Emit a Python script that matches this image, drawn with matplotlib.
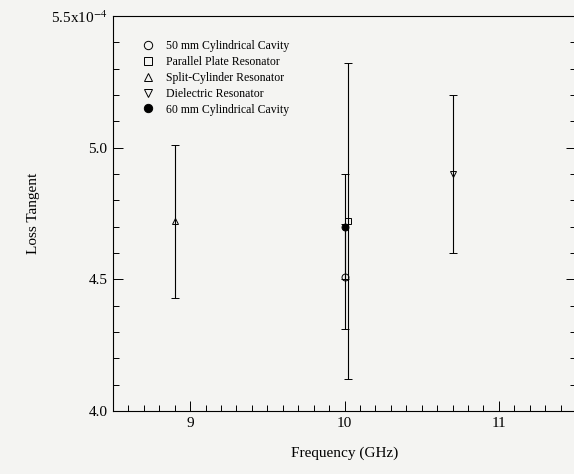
"""Loss tangent of the test specimen measured with several resonator techniques."""

import matplotlib.pyplot as plt
from matplotlib.lines import Line2D
from matplotlib.ticker import MultipleLocator

# measurement methods, in legend order
methods = ["50 mm Cylindrical Cavity", "Parallel Plate Resonator",
           "Split-Cylinder Resonator", "Dielectric Resonator",
           "60 mm Cylindrical Cavity"]
frequency_ghz = [10.0, 10.02, 8.9, 10.7, 10.0]
loss_tangent = [4.51, 4.72, 4.72, 4.90, 4.70]        # x 10^-4
uncertainty = [0.20, 0.60, 0.29, 0.30, 0.20]         # x 10^-4

ytick_values = [4.0, 4.5, 5.0, 5.5]
ytick_labels = ["4.0", "4.5", "5.0", r"5.5x10$^{\mathrm{-4}}$"]
xtick_values = [9, 10, 11]

markers = ['o', 's', '^', 'v', 'o']
facecolors = ['none', 'none', 'none', 'none', 'black']

BG = '#f4f4f2'


def save_or_show(fig, path=None):
    if path is not None:
        fig.savefig(path, facecolor=fig.get_facecolor())
        plt.close(fig)
    else:
        plt.show()


def plot_loss_tangent(path=None):
    plt.rcParams['font.family'] = ['Liberation Serif', 'DejaVu Serif']
    plt.rcParams['mathtext.fontset'] = 'stix'

    fig = plt.figure(figsize=(5.74, 4.74), dpi=100, facecolor=BG)
    ax = fig.add_axes([0.1969, 0.1329, 0.8066, 0.8333], facecolor=BG)

    for f, lt, err, m, fc in zip(frequency_ghz, loss_tangent, uncertainty,
                                 markers, facecolors):
        ax.errorbar(f, lt, yerr=err, fmt=m, ms=5, mfc=fc, mec='black',
                    mew=0.7, ecolor='black', elinewidth=0.8, capsize=2.6,
                    capthick=0.8, zorder=3)

    ax.set_xlim(8.5, 11.5)
    ax.set_ylim(4.0, 5.5)
    ax.set_xticks(xtick_values)
    ax.set_yticks(ytick_values)
    ax.set_yticklabels(ytick_labels)
    ax.xaxis.set_minor_locator(MultipleLocator(0.1))
    ax.yaxis.set_minor_locator(MultipleLocator(0.1))
    ax.tick_params(which='both', direction='in', top=False, right=True,
                   labelsize=11, width=0.7, pad=4)
    ax.tick_params(which='major', length=7)
    ax.tick_params(which='minor', length=4)

    for side in ax.spines.values():
        side.set_linewidth(0.8)

    ax.set_xlabel("Frequency (GHz)", fontsize=11, labelpad=12)
    ax.set_ylabel("Loss Tangent", fontsize=11, labelpad=8)

    handles = [Line2D([], [], ls='none', marker=m, ms=6, mfc=fc,
                      mec='black', mew=0.7)
               for m, fc in zip(markers, facecolors)]
    ax.legend(handles, methods, loc='upper left',
              bbox_to_anchor=(0.056, 0.95), frameon=False, fontsize=8.5,
              handlelength=0.8, handletextpad=1.1, labelspacing=0.32,
              borderaxespad=0)

    save_or_show(fig, path)


if __name__ == '__main__':
    plot_loss_tangent('out.png')
